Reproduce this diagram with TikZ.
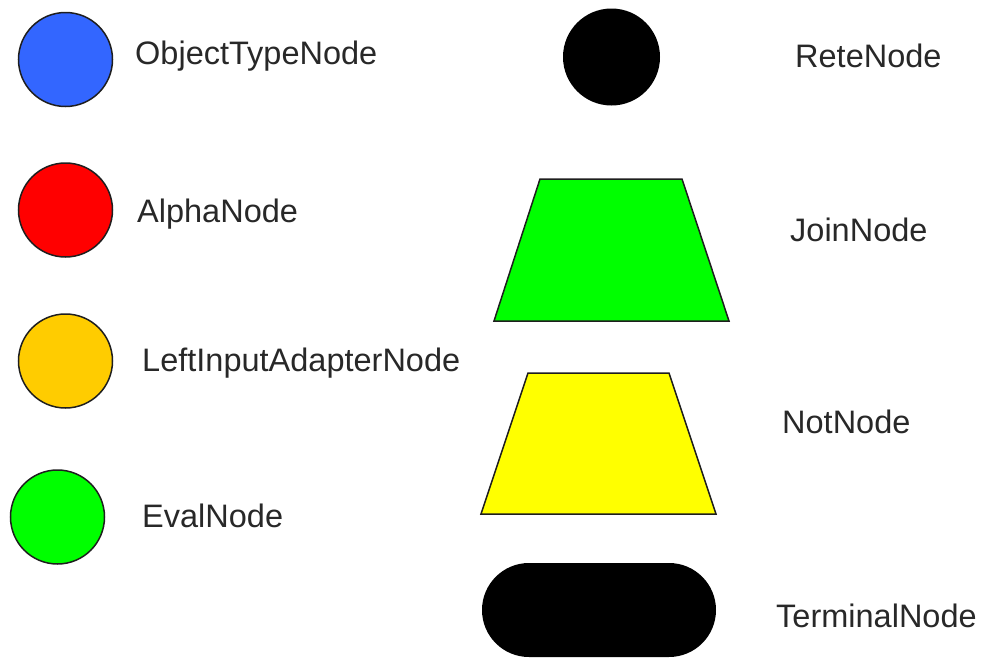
\documentclass[tikz,border=0pt]{standalone}
\usepackage{fontspec}
\setmainfont{Liberation Sans}
\usetikzlibrary{shapes.misc}
\definecolor{otnblue}{RGB}{51,102,255}
\definecolor{alphared}{RGB}{255,0,0}
\definecolor{lianorange}{RGB}{255,204,0}
\definecolor{evalgreen}{RGB}{0,255,0}
\definecolor{notyellow}{RGB}{255,255,0}
\definecolor{outline}{RGB}{30,30,30}
\definecolor{labeltext}{RGB}{40,40,40}
\begin{document}
\begin{tikzpicture}[x=1pt,y=-1pt,
  dot/.style={circle,draw=outline,line width=1.5pt,minimum size=94pt,inner sep=0pt},
  lbl/.style={anchor=base west,inner sep=0pt,text=labeltext,font=\fontsize{32.5}{39}\selectfont},
  shapeline/.style={draw=outline,line width=1.5pt,line join=miter}]
\useasboundingbox (0,0) rectangle (991,659);
% left column
\node[dot,fill=otnblue] (otn) at (65.5,59.5) {};
\node[lbl] (otnl) at (135,64) {ObjectTypeNode};
\node[dot,fill=alphared] (alpha) at (65.5,210) {};
\node[lbl] (alphal) at (137,222) {AlphaNode};
\node[dot,fill=lianorange] (lian) at (65.5,361) {};
\node[lbl] (lianl) at (142,371) {LeftInputAdapterNode};
\node[dot,fill=evalgreen] (eval) at (57.5,517) {};
\node[lbl] (evall) at (142,527) {EvalNode};
% right column
\node[circle,fill=black,minimum size=97pt,inner sep=0pt] (rete) at (611.5,57) {};
\node[lbl] (retel) at (795,67) {ReteNode};
\draw[shapeline,fill=evalgreen] (540,179) -- (682,179) -- (729,321) -- (494,321) -- cycle;
\node[lbl] (joinl) at (790,241) {JoinNode};
\draw[shapeline,fill=notyellow] (528,373) -- (669,373) -- (716,514) -- (481,514) -- cycle;
\node[lbl] (notl) at (782,433) {NotNode};
\node[rounded rectangle,fill=black,minimum width=234pt,minimum height=94pt,inner sep=0pt] (term) at (599,610) {};
\node[lbl] (terml) at (776,627) {TerminalNode};
\end{tikzpicture}
\end{document}
